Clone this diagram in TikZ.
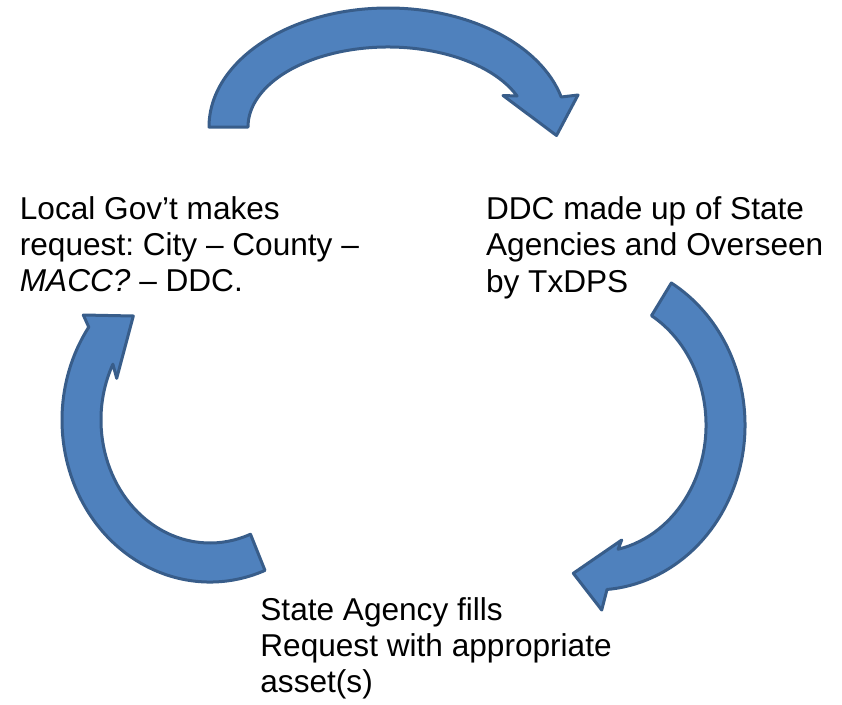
\documentclass[tikz,border=0pt]{standalone}
\usepackage{fontspec}
\setmainfont{Liberation Sans}
\definecolor{arrowfill}{HTML}{4F81BD}
\definecolor{arrowline}{HTML}{385D8A}
\tikzset{
  blockarrow/.style={fill=arrowfill, draw=arrowline, line width=3pt, line join=round},
  txtblock/.style={anchor=north west, inner sep=0pt, align=left,
    font=\fontsize{31.6}{36.2}\selectfont\frenchspacing}
}
\begin{document}
\begin{tikzpicture}[x=1pt,y=1pt]
\useasboundingbox (0,0) rectangle (842,-704);
\coordinate (cT) at (388,-127);
\coordinate (cR) at (595,-425);
\coordinate (cL) at (210,-420);
% top arrow
\draw[blockarrow] ([shift={(180:179 and 119)}]cT)
  arc[start angle=180, end angle=14.6, x radius=179, y radius=119]
  -- (578,-95) -- (556.5,-135.5) -- (503,-95.5)
  -- ([shift={(22.8:140 and 80)}]cT)
  arc[start angle=22.8, end angle=180, x radius=140, y radius=80] -- cycle;
% right arrow
\draw[blockarrow] ([shift={(59.4:150 and 165)}]cR)
  arc[start angle=59.4, end angle=-85.4, x radius=150, y radius=165]
  -- (601.7,-610) -- (573.3,-573.3) -- (621.7,-540)
  -- ([shift={(-78:111 and 127)}]cR)
  arc[start angle=-78, end angle=59.4, x radius=111, y radius=127] -- cycle;
% left arrow
\draw[blockarrow] ([shift={(-68.2:148 and 162)}]cL)
  arc[start angle=-68.2, end angle=-215, x radius=148, y radius=162]
  -- (83.3,-315) -- (133.3,-316) -- (116.7,-378.3)
  -- ([shift={(-207:109 and 123)}]cL)
  arc[start angle=-207, end angle=-68.2, x radius=109, y radius=123] -- cycle;
% texts
\node[txtblock] (local) at (19.7,-193.96)
  {\strut Local Gov’t makes\\request: City – County –\\\textit{MACC?} – DDC.};
\node[txtblock] (ddc) at (485.9,-194.16)
  {\strut DDC made up of State\\Agencies and Overseen\\by TxDPS};
\node[txtblock] (state) at (260.2,-594.66)
  {\strut State Agency fills\\Request with appropriate\\asset(s)};
\end{tikzpicture}
\end{document}
